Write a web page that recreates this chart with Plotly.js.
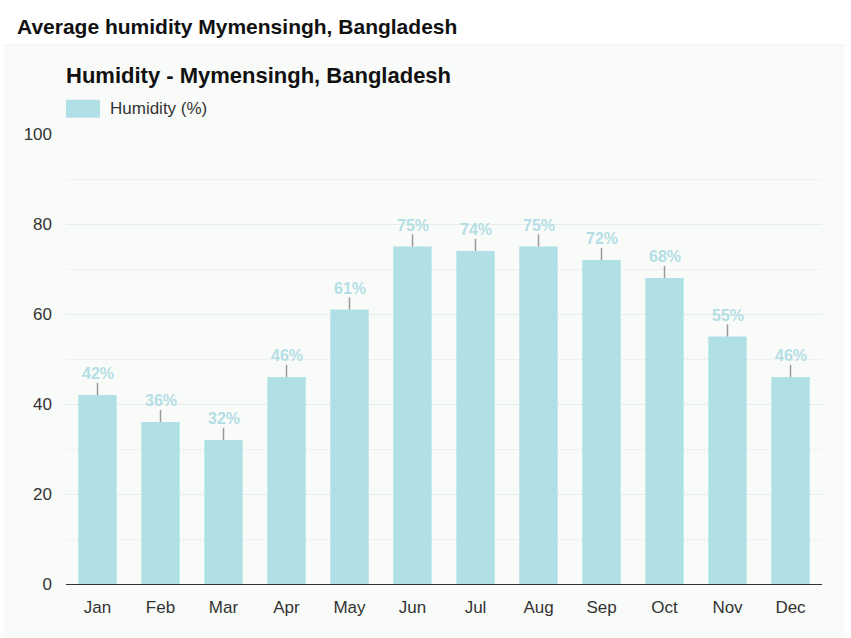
<!DOCTYPE html>
<html><head><meta charset="utf-8">
<script src="https://cdn.plot.ly/plotly-3.0.1.min.js"></script>
<style>html,body{margin:0;padding:0;background:#fff}#c{width:851px;height:638px}</style>
</head><body><div id="c"></div>
<script>
const months = ["Jan","Feb","Mar","Apr","May","Jun","Jul","Aug","Sep","Oct","Nov","Dec"];
const humidity = [42,36,32,46,61,75,74,75,72,68,55,46];
const pageTitle = "Average humidity Mymensingh, Bangladesh";
const chartTitle = "Humidity - Mymensingh, Bangladesh";
const seriesName = "Humidity (%)";

const barColor = "#b0e0e6";
const font = "Liberation Sans, Arial, sans-serif";

const trace = {
  type: "bar", x: months, y: humidity, name: seriesName,
  marker: {color: barColor}, width: 0.61, showlegend: false,
  error_y: {type: "data", symmetric: false, array: humidity.map(() => 2.7), arrayminus: humidity.map(() => 0),
            color: "#999999", thickness: 1.5, width: 0},
  hoverinfo: "x+y"
};

const annotations = months.map((m, i) => ({
  x: m, y: humidity[i], xref: "x", yref: "y", text: humidity[i] + "%",
  showarrow: false, yanchor: "bottom", yshift: 11,
  font: {family: font, size: 16, color: "#b4dee5", weight: "bold"}
}));
annotations.push({xref: "paper", yref: "paper", x: -0.002, y: 1.131, xanchor: "left", yanchor: "middle",
  text: "<b>" + chartTitle + "</b>", showarrow: false, font: {family: font, size: 22, color: "#111"}});
annotations.push({xref: "paper", yref: "paper", x: 0.056, y: 1.056, xanchor: "left", yanchor: "middle",
  text: seriesName, showarrow: false, font: {family: font, size: 17, color: "#333"}});
annotations.push({xref: "paper", yref: "paper", x: -0.067, y: 1.238, xanchor: "left", yanchor: "middle",
  text: "<b>" + pageTitle + "</b>", showarrow: false, font: {family: font, size: 21, color: "#111"}});

const layout = {
  width: 851, height: 638,
  margin: {l: 66, r: 29, t: 134, b: 54},
  paper_bgcolor: "#ffffff", plot_bgcolor: "#f9fbf9",
  font: {family: font, color: "#333"},
  bargap: 0.4,
  xaxis: {type: "category", showgrid: false, tickfont: {size: 17, color: "#333"}, ticks: "",
          ticklabelstandoff: 11, showline: false, zeroline: false},
  yaxis: {range: [0, 100], dtick: 20, tick0: 0, showgrid: true, gridcolor: "#e8ecea", gridwidth: 1,
          minor: {dtick: 10, showgrid: true, gridcolor: "#eef1ef", gridwidth: 1},
          zeroline: true, zerolinecolor: "#333", zerolinewidth: 1,
          tickfont: {size: 17, color: "#333"}, ticks: "", ticklabelstandoff: 13, fixedrange: true},
  shapes: [
    {type: "rect", xref: "paper", yref: "paper", layer: "below", x0: -0.082, x1: 1.03, y0: -0.12, y1: 1.198,
     fillcolor: "#f9fbf9", line: {width: 0}},
    {type: "line", xref: "paper", yref: "paper", x0: -0.082, x1: 1.03, y0: 1.198, y1: 1.198,
     line: {color: "#eeeeee", width: 1}},
    {type: "rect", xref: "paper", yref: "paper", x0: 0, x1: 0.045, y0: 1.036, y1: 1.076,
     fillcolor: barColor, line: {width: 0}}
  ],
  annotations: annotations
};
Plotly.newPlot("c", [trace], layout, {displayModeBar: false, staticPlot: true});
</script></body></html>
